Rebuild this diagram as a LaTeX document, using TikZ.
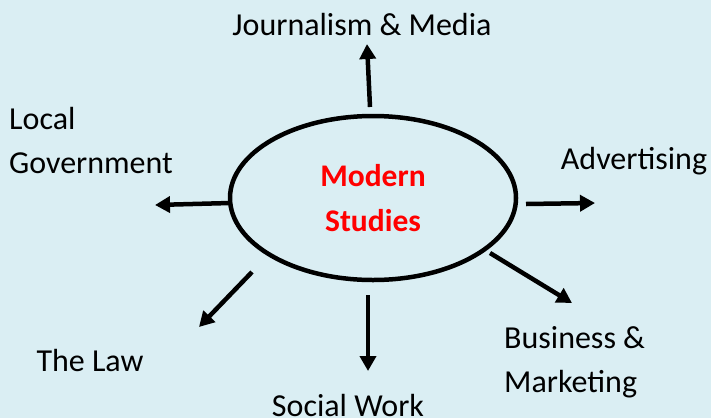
\documentclass[tikz,border=0pt]{standalone}
\usepackage{fontspec}
\setmainfont{Carlito}
\usetikzlibrary{arrows.meta,shapes.geometric}
\definecolor{paleblue}{HTML}{DAEEF3}
\begin{document}
\begin{tikzpicture}[x=1pt,y=-1pt]
    \tikzstyle{career} = [font=\fontsize{32}{44}\selectfont, inner sep=0pt]
    \tikzstyle{pointer} = [line width=4.5pt, -{Triangle[length=15pt,width=16pt]}]
    \fill[paleblue] (0,0) rectangle (711,418);
    \useasboundingbox (0,0) rectangle (711,418);
    \node[ellipse, draw, line width=4.5pt, minimum width=286pt, minimum height=164pt,
          inner sep=0pt, text=red, align=center,
          font=\fontsize{31.5}{45}\selectfont\bfseries] (studies) at (373,198) {Modern\\Studies};
    \node[career] (media) at (362,25) {Journalism \& Media};
    \node[career, anchor=west, align=left] (government) at (9,141) {Local\\Government};
    \node[career] (advertising) at (634,161) {Advertising};
    \node[career, anchor=west, align=left] (business) at (504,362) {Business \&\\Marketing};
    \node[career] (law) at (90,360) {The Law};
    \node[career] (social) at (348,405) {Social Work};
    \coordinate (up from) at (370,107);
    \coordinate (up to) at (367,44);
    \coordinate (left from) at (230,203);
    \coordinate (left to) at (155,205);
    \coordinate (right from) at (526,204);
    \coordinate (right to) at (595,203);
    \coordinate (br from) at (490,253);
    \coordinate (br to) at (572,303);
    \coordinate (bl from) at (252,272);
    \coordinate (bl to) at (199,327);
    \coordinate (down from) at (368,295);
    \coordinate (down to) at (368,371);
    \draw[pointer] (up from) -- (up to);
    \draw[pointer] (left from) -- (left to);
    \draw[pointer] (right from) -- (right to);
    \draw[pointer] (br from) -- (br to);
    \draw[pointer] (bl from) -- (bl to);
    \draw[pointer] (down from) -- (down to);
\end{tikzpicture}
\end{document}
